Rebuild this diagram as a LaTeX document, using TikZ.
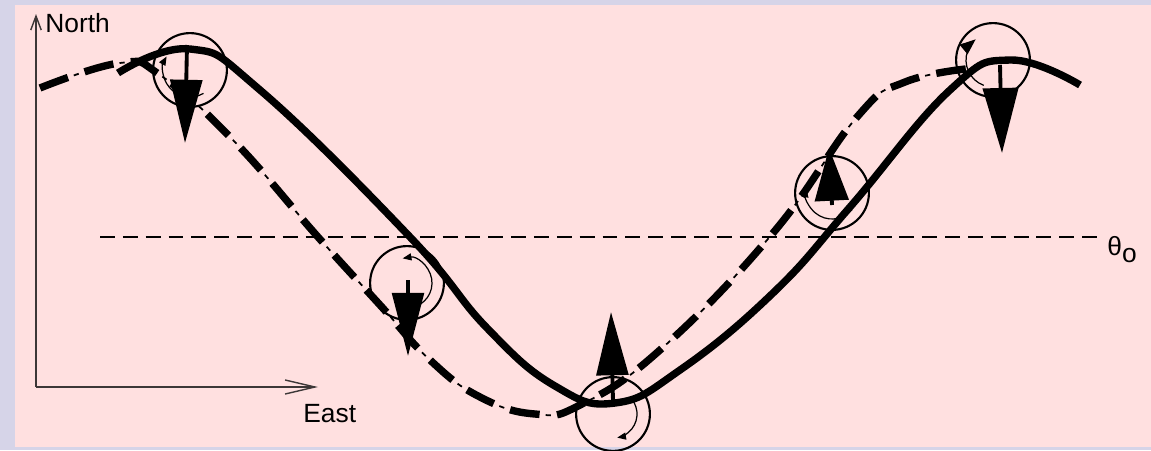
\documentclass[tikz,border=0pt]{standalone}
\usepackage{fontspec}
\setmainfont{Liberation Sans}
\usetikzlibrary{arrows.meta}
\definecolor{pinkbg}{RGB}{255,224,224}
\definecolor{framebg}{RGB}{214,212,232}
\definecolor{axisgray}{RGB}{60,55,55}

\begin{document}
\begin{tikzpicture}[x=0.02cm,y=-0.02cm,
    lbl/.style={inner sep=0pt, font=\fontsize{15}{18}\selectfont},
    spin/.style={circle, draw, line width=1.2pt, minimum size=42pt, inner sep=0pt},
    needle/.style={line width=2.2pt, -{Triangle[length=36pt,width=18pt]}},
    twist/.style={line width=0.7pt, -{Triangle[length=5pt,width=4pt]}},
    axis/.style={line width=0.8pt, draw=axisgray},
    refline/.style={line width=1.6pt, dash pattern=on 8.5pt off 4.5pt},
    track/.style={line width=4.2pt, line join=round},
    lagtrack/.style={line width=4.2pt, dash pattern=on 17pt off 10pt,
        postaction={draw, line width=1pt, dash pattern=on 3pt off 24pt, dash phase=6.5pt}}]

        % frame and pink card
        \useasboundingbox (0,0) rectangle (1151,450);
        \fill[framebg] (0,0) rectangle (1151,450);
        \fill[pinkbg] (15,5) rectangle (1151,447);

        % axes
        \coordinate (O) at (36,387);
        \draw[axis, -{Straight Barb[length=8pt,width=6pt]}] (O) -- (36,14);
        \draw[axis, -{Straight Barb[length=17pt,width=8pt]}] (O) -- (318,387);
        \node[lbl, anchor=base west] (north) at (45,32) {North};
        \node[lbl, anchor=base west] (east) at (303,422) {East};

        % mean direction
        \draw[refline] (100,237) -- (1097,237);
        \node[lbl, anchor=base west] (theta) at (1107,255) {θ\raisebox{-4.5pt}{o}};

        % lagging track (dash-dot)
        \draw[lagtrack] plot[smooth, tension=0.75] coordinates {
            (40,88) (120,63) (160,75) (233,140) (318,237) (380,305)
            (430,360) (480,397) (535,414) (580,405) (660,350) (773,233)
            (857,117) (905,82) (975,68)};

        % leading track (solid)
        \draw[track] plot[smooth, tension=0.75] coordinates {
            (118,73) (190,49) (260,90) (410,237) (487,328)
            (555,386) (615,403) (680,370) (773,293) (850,207) (950,90)
            (1010,60) (1080,85)};

        % spinning bodies
        \node[spin] (S1) at (190,70) {};
        \node[spin] (S2) at (407,283) {};
        \node[spin] (S3) at (613,414) {};
        \node[spin] (S4) at (832,193) {};
        \node[spin] (S5) at (993,60) {};

        % heading needles
        \draw[needle] (187,45) -- (185,143);
        \draw[needle] (408,280) -- (408,356);
        \draw[needle] (613,402) -- (611,312);
        \draw[needle, -{Triangle[length=30pt,width=19pt]}] (832,205) -- (829,148);
        \draw[needle, -{Triangle[length=37pt,width=20pt]}] (1000,65) -- (1002,153);

        % sense of rotation
        \draw[twist] ([shift={(60:27)}]S1.center) arc[start angle=60, end angle=210, radius=27];
        \draw[twist] ([shift={(80:25)}]S2.center) arc[start angle=80, end angle=-100, radius=25];
        \draw[twist] ([shift={(-40:24)}]S3.center) arc[start angle=-40, end angle=80, radius=24];
        \draw[twist] ([shift={(40:26)}]S4.center) arc[start angle=40, end angle=190, radius=26];
        \draw[twist, -{Triangle[length=9pt,width=7pt]}] ([shift={(110:27)}]S5.center) arc[start angle=110, end angle=230, radius=27];
    \end{tikzpicture}
\end{document}
